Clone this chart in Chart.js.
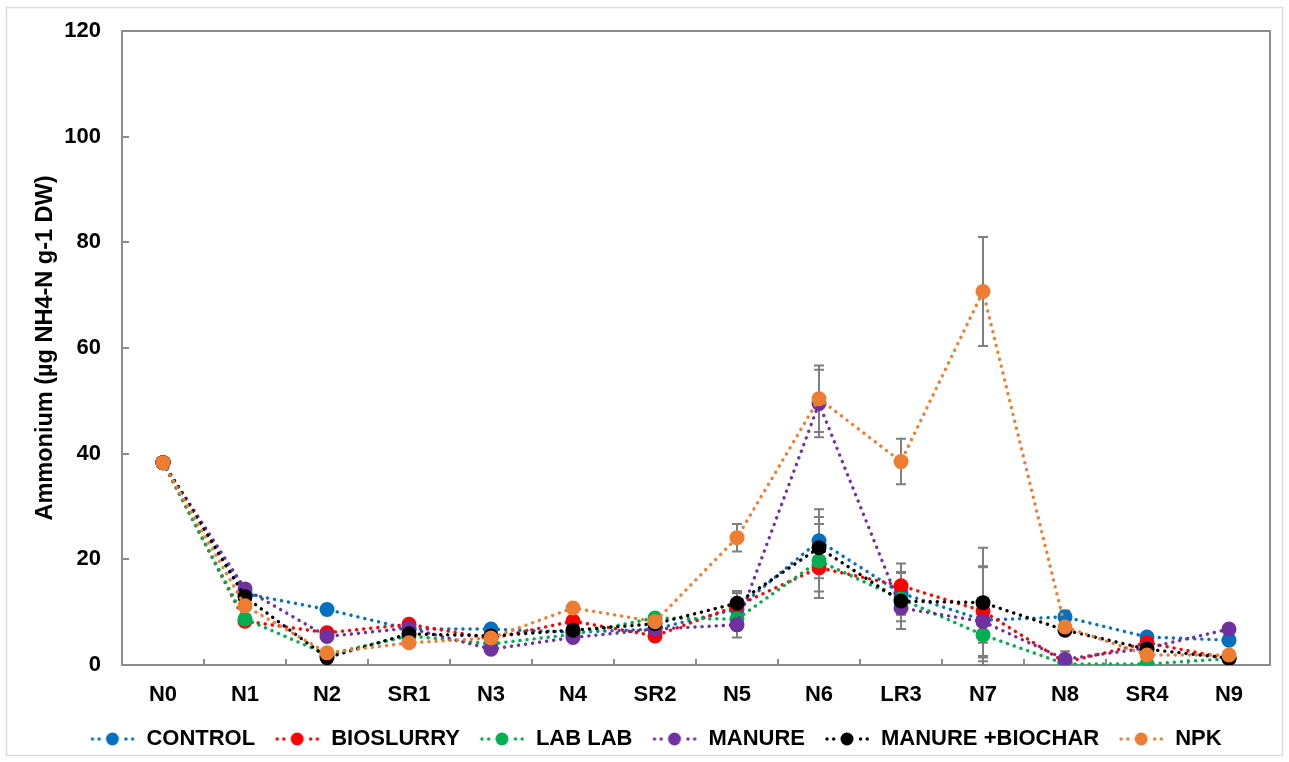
<!DOCTYPE html>
<html>
<head>
<meta charset="utf-8">
<script src="https://cdn.jsdelivr.net/npm/chart.js@4/dist/chart.umd.min.js"></script>
<style>
  html, body { margin: 0; padding: 0; background: #ffffff; }
  canvas { display: block; }
</style>
</head>
<body>
<canvas id="chart" width="1289" height="762"></canvas>
<script>
// Sampling events along the season
const categories = ['N0', 'N1', 'N2', 'SR1', 'N3', 'N4', 'SR2', 'N5', 'N6', 'LR3', 'N7', 'N8', 'SR4', 'N9'];

// Ammonium means (µg NH4-N g-1 DW) per treatment
const control       = [38.3, 13.5, 10.5, 6.8, 6.8, 6.2, 6.8, 10.6, 23.5, 13.6, 8.5, 9.1, 5.3, 4.7];
const bioslurry     = [38.3, 8.3, 6.1, 7.7, 5.0, 8.3, 5.5, 11.2, 18.4, 15.0, 10.2, 0.5, 4.2, 1.2];
const lablab        = [38.3, 8.7, 2.0, 5.5, 4.0, 5.8, 8.9, 8.7, 19.7, 12.5, 5.7, 0.2, 0.2, 1.2];
const manure        = [38.3, 14.4, 5.4, 7.0, 3.0, 5.2, 6.8, 7.6, 49.5, 10.8, 8.2, 1.1, 3.2, 6.8];
const manureBiochar = [38.3, 12.9, 1.4, 5.9, 5.5, 6.6, 7.8, 11.7, 22.2, 12.1, 11.8, 6.6, 3.0, 1.3];
const npk           = [38.3, 11.2, 2.3, 4.2, 5.1, 10.8, 8.2, 24.1, 50.4, 38.5, 70.7, 7.2, 1.9, 1.9];

// Standard errors per treatment
const controlErr       = [0.5, 0.8, 0.9, 0.5, 0.6, 0.5, 0.5, 3.0, 6.0, 4.0, 10.0, 1.2, 0.6, 0.5];
const bioslurryErr     = [0.5, 0.6, 0.6, 0.5, 0.5, 0.6, 0.5, 2.5, 4.5, 4.2, 8.5, 0.5, 0.6, 0.4];
const lablabErr        = [0.5, 0.6, 0.5, 0.5, 0.5, 0.5, 0.5, 1.5, 7.0, 3.0, 5.0, 0.3, 0.3, 0.4];
const manureErr        = [0.5, 0.8, 0.8, 0.5, 0.5, 0.5, 0.5, 2.4, 6.4, 2.5, 4.0, 1.5, 0.5, 0.6];
const manureBiocharErr = [0.5, 0.8, 0.5, 0.5, 0.5, 0.5, 0.5, 2.3, 5.8, 5.3, 10.4, 0.8, 0.5, 0.4];
const npkErr           = [0.5, 0.8, 0.5, 0.5, 0.5, 0.8, 0.5, 2.6, 6.3, 4.3, 10.3, 1.5, 0.5, 0.5];

const yTicks = [0, 20, 40, 60, 80, 100, 120];

const treatments = [
  { label: 'CONTROL',          data: control,       err: controlErr,       color: '#0070C0' },
  { label: 'BIOSLURRY',        data: bioslurry,     err: bioslurryErr,     color: '#FF0000' },
  { label: 'LAB LAB',          data: lablab,        err: lablabErr,        color: '#00B050' },
  { label: 'MANURE',           data: manure,        err: manureErr,        color: '#7030A0' },
  { label: 'MANURE +BIOCHAR',  data: manureBiochar, err: manureBiocharErr, color: '#000000' },
  { label: 'NPK',              data: npk,           err: npkErr,           color: '#ED7D31' }
];

const FONT = "'Liberation Sans', Arial, sans-serif";
const AXIS_GREY = '#8c8c8c';

// Legend swatch: dotted line with a round marker in the middle
function makeSwatch(color) {
  const c = document.createElement('canvas');
  c.width = 46; c.height = 16;
  const g = c.getContext('2d');
  g.fillStyle = color;
  for (let x = 3; x <= 44; x += 6.7) {
    if (Math.abs(x - 23) < 9) continue;
    g.beginPath(); g.arc(x, 8, 1.7, 0, Math.PI * 2); g.fill();
  }
  g.beginPath(); g.arc(23, 8, 6.5, 0, Math.PI * 2); g.fill();
  return c;
}
const swatches = treatments.map(t => makeSwatch(t.color));

const datasets = treatments.map((t, i) => ({
  label: t.label,
  data: t.data,
  errors: t.err,
  borderColor: t.color,
  backgroundColor: t.color,
  pointBackgroundColor: t.color,
  pointBorderWidth: 0,
  pointRadius: 7.5,
  pointHoverRadius: 7.5,
  borderWidth: 3.4,
  borderDash: [0.1, 7],
  borderCapStyle: 'round',
  tension: 0,
  fill: false,
  order: treatments.length - 1 - i
}));

// Error bars drawn beneath the series
const errorBars = {
  id: 'errorBars',
  beforeDatasetsDraw(chart) {
    const ctx = chart.ctx;
    const y = chart.scales.y;
    ctx.save();
    ctx.strokeStyle = '#7f7f7f';
    ctx.lineWidth = 2;
    chart.data.datasets.forEach((ds, di) => {
      const meta = chart.getDatasetMeta(di);
      meta.data.forEach((pt, i) => {
        const v = ds.data[i], e = ds.errors[i];
        if (!e) return;
        const yTop = y.getPixelForValue(v + e);
        const yBot = y.getPixelForValue(Math.max(0, v - e));
        const x = pt.x;
        ctx.beginPath();
        ctx.moveTo(x, yTop); ctx.lineTo(x, yBot);
        ctx.moveTo(x - 5, yTop); ctx.lineTo(x + 5, yTop);
        ctx.moveTo(x - 5, yBot); ctx.lineTo(x + 5, yBot);
        ctx.stroke();
      });
    });
    ctx.restore();
  }
};

// Plot frame (top and right edges) and outer page border
const frame = {
  id: 'frame',
  beforeDraw(chart) {
    const ctx = chart.ctx;
    ctx.save();
    ctx.strokeStyle = '#dcdcdc';
    ctx.lineWidth = 1.5;
    ctx.strokeRect(6.5, 7.5, 1276, 748);
    ctx.restore();
  },
  afterDraw(chart) {
    const { left, right, top, bottom } = chart.chartArea;
    const ctx = chart.ctx;
    ctx.save();
    ctx.strokeStyle = AXIS_GREY;
    ctx.lineWidth = 2;
    ctx.beginPath();
    ctx.moveTo(left, top); ctx.lineTo(right, top); ctx.lineTo(right, bottom);
    ctx.stroke();
    ctx.restore();
  }
};

new Chart(document.getElementById('chart'), {
  type: 'line',
  data: { labels: categories, datasets },
  plugins: [errorBars, frame],
  options: {
    responsive: false,
    devicePixelRatio: 1,
    animation: false,
    layout: { padding: { left: 41, right: 19, top: 31, bottom: 2 } },
    plugins: {
      tooltip: { enabled: false },
      legend: {
        position: 'bottom',
        labels: {
          usePointStyle: true,
          pointStyleWidth: 46,
          padding: 19,
          color: '#000000',
          font: { family: FONT, size: 22, weight: 'bold' },
          sort: (a, b) => a.datasetIndex - b.datasetIndex,
          generateLabels(chart) {
            return Chart.defaults.plugins.legend.labels.generateLabels(chart).map(item => {
              item.pointStyle = swatches[item.datasetIndex];
              return item;
            });
          }
        }
      }
    },
    scales: {
      x: {
        type: 'category',
        offset: true,
        afterFit(scale) { scale.height = 44; },
        grid: {
          offset: true,
          drawOnChartArea: false,
          color: AXIS_GREY,
          lineWidth: 2,
          tickLength: -6
        },
        border: { color: AXIS_GREY, width: 2 },
        ticks: {
          color: '#000000',
          padding: 23,
          maxRotation: 0,
          font: { family: FONT, size: 22, weight: 'bold' }
        }
      },
      y: {
        min: 0,
        max: 120,
        afterFit(scale) {
          scale.width = 81;
          scale.paddingTop = 0;
          scale.paddingBottom = 0;
        },
        afterBuildTicks(scale) { scale.ticks = yTicks.map(v => ({ value: v })); },
        grid: {
          drawOnChartArea: false,
          color: AXIS_GREY,
          lineWidth: 2,
          tickLength: -7
        },
        border: { color: AXIS_GREY, width: 2 },
        ticks: {
          color: '#000000',
          padding: 28,
          font: { family: FONT, size: 22, weight: 'bold' }
        },
        title: {
          display: true,
          text: 'Ammonium (µg NH4-N g-1 DW)',
          color: '#000000',
          padding: { top: -10, bottom: 0 },
          font: { family: FONT, size: 23.5, weight: 'bold' }
        }
      }
    }
  }
});
</script>
</body>
</html>
